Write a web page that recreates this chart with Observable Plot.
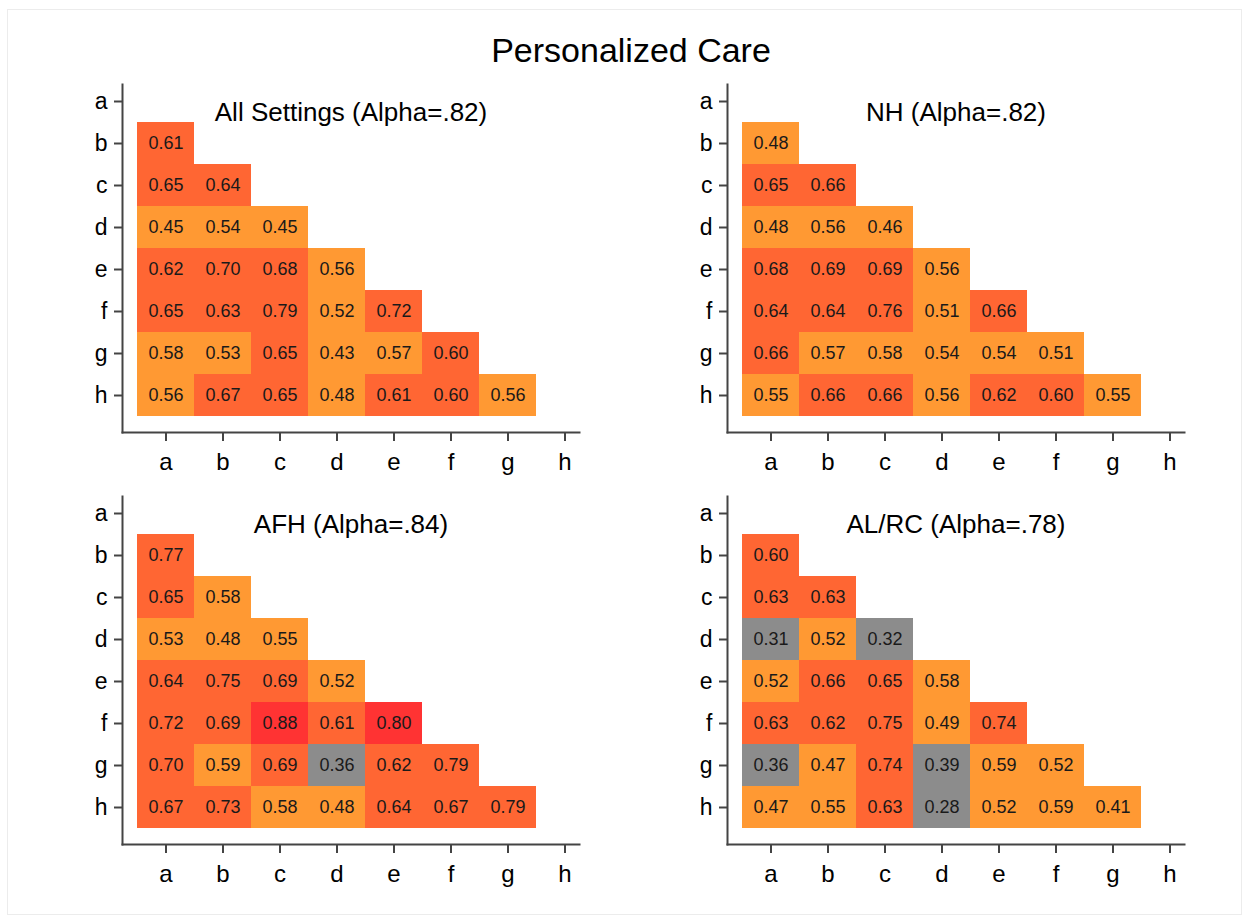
<!DOCTYPE html>
<html><head><meta charset="utf-8">
<script src="https://cdn.jsdelivr.net/npm/d3@7"></script>
<script src="https://cdn.jsdelivr.net/npm/@observablehq/plot@0.6"></script>
<style>
body{margin:0;background:#fff;}
#page{position:relative;width:1250px;height:920px;font-family:"Liberation Sans",Arial,sans-serif;}
#frame{position:absolute;left:7px;top:9px;width:1235px;height:906px;border:1px solid #ececec;box-sizing:border-box;}
#title{position:absolute;top:33px;left:631px;transform:translateX(-50%);font-size:34px;line-height:34px;white-space:nowrap;color:#000;}
.panel{position:absolute;}
</style></head>
<body><div id="page"><div id="frame"></div><div id="title">Personalized Care</div></div>
<script>
const cats = ["a","b","c","d","e","f","g","h"];
const rowLabels = ["b","c","d","e","f","g","h"];

const allSettingsValues = [
  [0.61],
  [0.65,0.64],
  [0.45,0.54,0.45],
  [0.62,0.70,0.68,0.56],
  [0.65,0.63,0.79,0.52,0.72],
  [0.58,0.53,0.65,0.43,0.57,0.60],
  [0.56,0.67,0.65,0.48,0.61,0.60,0.56]
];
const nhValues = [
  [0.48],
  [0.65,0.66],
  [0.48,0.56,0.46],
  [0.68,0.69,0.69,0.56],
  [0.64,0.64,0.76,0.51,0.66],
  [0.66,0.57,0.58,0.54,0.54,0.51],
  [0.55,0.66,0.66,0.56,0.62,0.60,0.55]
];
const afhValues = [
  [0.77],
  [0.65,0.58],
  [0.53,0.48,0.55],
  [0.64,0.75,0.69,0.52],
  [0.72,0.69,0.88,0.61,0.80],
  [0.70,0.59,0.69,0.36,0.62,0.79],
  [0.67,0.73,0.58,0.48,0.64,0.67,0.79]
];
const alrcValues = [
  [0.60],
  [0.63,0.63],
  [0.31,0.52,0.32],
  [0.52,0.66,0.65,0.58],
  [0.63,0.62,0.75,0.49,0.74],
  [0.36,0.47,0.74,0.39,0.59,0.52],
  [0.47,0.55,0.63,0.28,0.52,0.59,0.41]
];
const panelTitles = ["All Settings (Alpha=.82)","NH (Alpha=.82)","AFH (Alpha=.84)","AL/RC (Alpha=.78)"];
const colorBreaks = [0.4, 0.6, 0.8];
const colorRange = ["#8c8c8c","#ff9933","#ff6633","#ff3333"];

const FONT = '"Liberation Sans", Arial, sans-serif';
const AXIS = "#444";

function toRows(values) {
  const out = [];
  values.forEach((row, i) => row.forEach((v, j) => out.push({row: rowLabels[i], col: cats[j], v})));
  return out;
}

function panel(values, title) {
  const data = toRows(values);
  return Plot.plot({
    width: 605, height: 412,
    marginLeft: 122, marginRight: 26, marginTop: 14, marginBottom: 50,
    style: {fontFamily: FONT, background: "transparent", color: "#000", overflow: "visible"},
    x: {domain: cats, padding: 0, insetLeft: 14.5, insetRight: -13.5},
    y: {domain: cats, padding: 0, insetTop: -7.36, insetBottom: 13.64},
    color: {type: "threshold", domain: colorBreaks, range: colorRange},
    marks: [
      Plot.cell(data, {x: "col", y: "row", fill: "v", inset: 0}),
      Plot.text(data, {x: "col", y: "row", text: d => d.v.toFixed(2), fontSize: 18, fill: "#1a1a1a"}),
      Plot.frame({anchor: "left", stroke: AXIS, strokeWidth: 2}),
      Plot.frame({anchor: "bottom", stroke: AXIS, strokeWidth: 2}),
      Plot.axisX({ticks: cats, tickSize: 9, tickPadding: 11, fontSize: 24, stroke: AXIS, strokeWidth: 2, fill: "#000", label: null}),
      Plot.axisY({ticks: cats, tickSize: 8, tickPadding: 7, fontSize: 23, stroke: AXIS, strokeWidth: 2, fill: "#000", label: null}),
      Plot.text([title], {frameAnchor: "top", dy: 18, fontSize: 26, fill: "#000"})
    ]
  });
}

const page = document.getElementById("page");
const panels = [allSettingsValues, nhValues, afhValues, alrcValues];
panels.forEach((vals, i) => {
  const svg = panel(vals, panelTitles[i]);
  const wrap = document.createElement("div");
  wrap.className = "panel";
  wrap.style.left = (i % 2) * 605 + "px";
  wrap.style.top = (70 + Math.floor(i / 2) * 412) + "px";
  wrap.appendChild(svg);
  page.appendChild(wrap);
});
</script>
</body></html>
